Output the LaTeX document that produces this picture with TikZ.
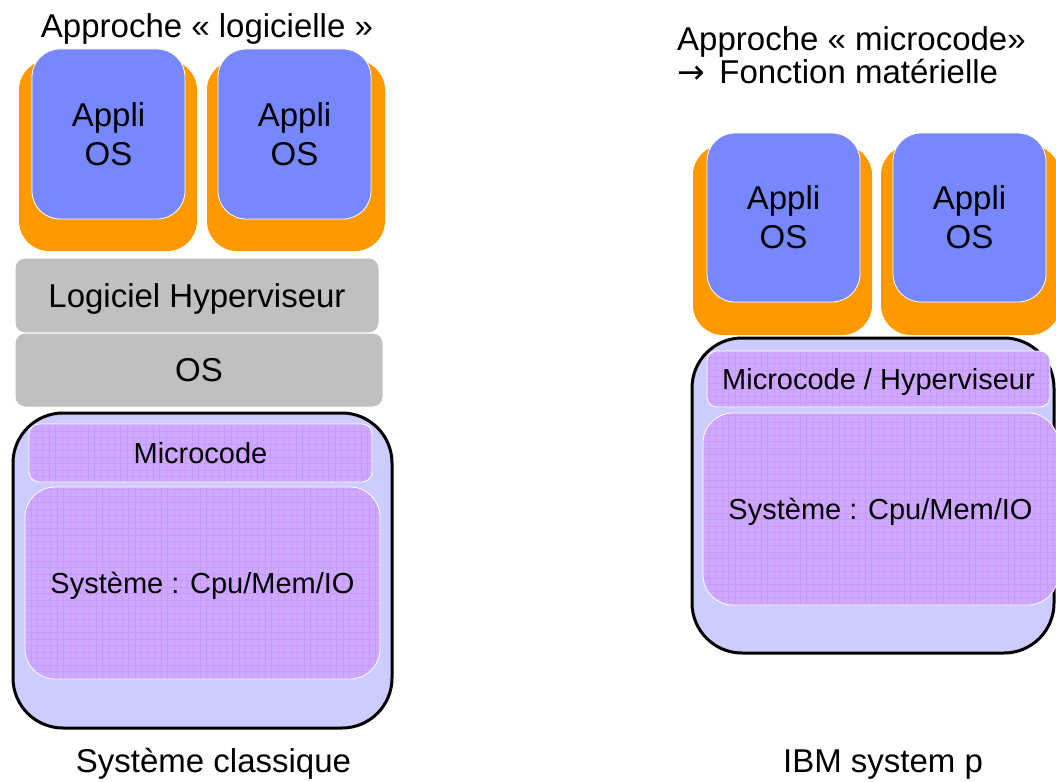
\documentclass[tikz,border=0pt]{standalone}
\usepackage{fontspec}
\setmainfont{Liberation Sans}
\newfontfamily\arrowfont{DejaVu Sans}
\definecolor{vmorange}{RGB}{255,153,0}
\definecolor{vmblue}{RGB}{119,136,255}
\definecolor{hwfill}{RGB}{204,204,255}
\definecolor{lav}{RGB}{204,170,255}
\definecolor{lavgrid}{RGB}{208,150,255}
\definecolor{swgray}{RGB}{192,192,192}
\newcommand\lyrbig{\fontsize{33}{39}\selectfont}
\newcommand\lyrsmall{\fontsize{29}{34}\selectfont}
\tikzset{
  box/.style={rectangle, inner sep=0pt, outer sep=0pt},
  guestbase/.style={box, fill=vmorange, rounded corners=30pt},
  guest/.style={box, fill=vmblue, draw=white, line width=0.8pt,
    rounded corners=28pt, align=center, font=\lyrbig},
  swlayer/.style={box, fill=swgray, draw=white, line width=1pt,
    rounded corners=10pt, font=\lyrbig, text height=23.6pt, text depth=0pt},
  hwbox/.style={box, fill=hwfill, draw=black, line width=3pt, rounded corners=50pt},
  gridfill/.style={box, fill=lav, draw=white, line width=0.8pt,
    font=\lyrsmall, text height=20.8pt, text depth=0pt,
    path picture={\draw[lavgrid, line width=0.5pt]
      (path picture bounding box.south west) grid[step=6.5pt]
      (path picture bounding box.north east);}},
  caption/.style={anchor=base, font=\lyrbig, inner sep=0pt},
}
\begin{document}
\begin{tikzpicture}[x=1pt, y=-1pt]
\useasboundingbox (0,0) rectangle (1056,781);
\clip (0,0) rectangle (1056,781);

% ---------- left: software hypervisor ----------
\node[caption] (titleL) at (207,38) {Approche « logicielle »};

\node[guestbase, minimum width=178pt, minimum height=191pt] (gbL1) at (108,155.5) {};
\node[guestbase, minimum width=178pt, minimum height=191pt] (gbL2) at (296,155.5) {};
\node[guest, minimum width=153pt, minimum height=170pt] (guestL1) at (108.5,134) {Appli\\OS};
\node[guest, minimum width=153pt, minimum height=170pt] (guestL2) at (294.5,134) {Appli\\OS};

\node[swlayer, minimum width=364pt, minimum height=75pt] (hypL) at (197,295.5) {Logiciel Hyperviseur};
\node[swlayer, minimum width=368pt, minimum height=74pt] (osL) at (199,370) {OS};

\node[hwbox, minimum width=379pt, minimum height=315pt] (hwL) at (202.5,570.5) {};
\node[gridfill, rounded corners=10pt, minimum width=343pt, minimum height=58pt] (mcL) at (200.5,453) {Microcode};
\node[gridfill, rounded corners=30pt, minimum width=355pt, minimum height=192pt] (sysL) at (202.5,583) {Système : Cpu/Mem/IO};

\node[caption] (capL) at (213.5,772) {Système classique};

% ---------- right: microcode hypervisor ----------
\node[anchor=base west, font=\lyrbig, inner sep=0pt] (titleRa) at (677,51) {Approche « microcode»};
\node[anchor=base west, font=\lyrbig, inner sep=0pt] (titleRb) at (677,83.6) {{\arrowfont →}\hspace{14.5pt}Fonction matérielle};

\node[guestbase, minimum width=179pt, minimum height=190pt] (gbR1) at (782.5,240) {};
\node[guestbase, minimum width=179pt, minimum height=190pt] (gbR2) at (970.5,240) {};
\node[guest, minimum width=153pt, minimum height=169pt] (guestR1) at (783.5,217.5) {Appli\\OS};
\node[guest, minimum width=153pt, minimum height=169pt] (guestR2) at (969.5,217.5) {Appli\\OS};

\node[hwbox, minimum width=362pt, minimum height=315pt] (hwR) at (873,495.5) {};
\node[gridfill, rounded corners=10pt, minimum width=343pt, minimum height=56pt] (mcR) at (878.5,379) {Microcode / Hyperviseur};
\node[gridfill, rounded corners=30pt, minimum width=355pt, minimum height=192pt] (sysR) at (880.5,509) {Système : Cpu/Mem/IO};

\node[caption] (capR) at (883,772) {IBM system p};
\end{tikzpicture}
\end{document}
